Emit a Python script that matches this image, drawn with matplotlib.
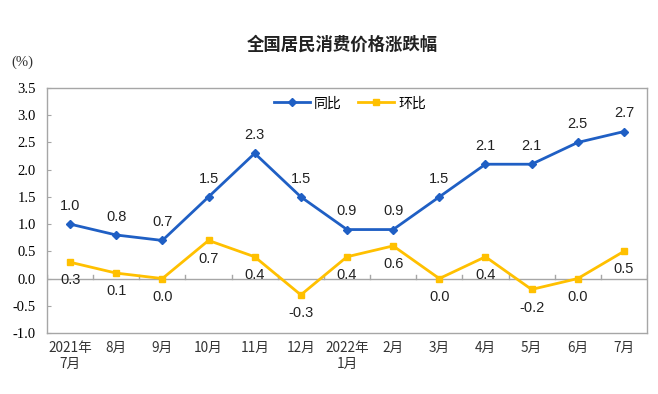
import matplotlib
matplotlib.use("Agg")
import matplotlib.pyplot as plt

plt.rcParams['font.family'] = ['Liberation Sans', 'Noto Sans CJK SC', 'DejaVu Sans']

categories = ["2021年\n7月", "8月", "9月", "10月", "11月", "12月", "2022年\n1月",
              "2月", "3月", "4月", "5月", "6月", "7月"]
yoy = [1.0, 0.8, 0.7, 1.5, 2.3, 1.5, 0.9, 0.9, 1.5, 2.1, 2.1, 2.5, 2.7]
mom = [0.3, 0.1, 0.0, 0.7, 0.4, -0.3, 0.4, 0.6, 0.0, 0.4, -0.2, 0.0, 0.5]
yticks = [-1.0, -0.5, 0.0, 0.5, 1.0, 1.5, 2.0, 2.5, 3.0, 3.5]

blue = "#1F5FC4"
yellow = "#FFC000"
gray = "#A6A6A6"

fig = plt.figure(figsize=(6.58, 3.94), dpi=100)
ax = fig.add_axes([47/658, 1-333/394, 600/658, 245/394])

x = list(range(len(categories)))
ax.plot(x, yoy, color=blue, lw=2.0, marker="D", ms=4.5, label="同比", zorder=3)
ax.plot(x, mom, color=yellow, lw=2.0, marker="s", ms=4.5, label="环比", zorder=3)

for xi, v in zip(x, yoy):
    ax.annotate(f"{v:.1f}", (xi, v), xytext=(0, 8), textcoords="offset points",
                ha="center", va="bottom", fontsize=10.5, color="#222222")
for xi, v in zip(x, mom):
    ax.annotate(f"{v:.1f}", (xi, v), xytext=(0, -8), textcoords="offset points",
                ha="center", va="top", fontsize=10.5, color="#222222")

ax.set_xlim(-0.5, len(categories) - 0.5)
ax.set_ylim(-1.0, 3.5)
ax.set_yticks(yticks)
ax.set_yticklabels([f"{t:.1f}" for t in yticks], fontfamily="Liberation Serif", fontsize=10.5)
ax.tick_params(axis="y", direction="in", length=3, color=gray, pad=8)

# category axis on zero line
ax.axhline(0, color=gray, lw=1.0, zorder=1)
for b in range(len(categories) + 1):
    ax.plot([b - 0.5, b - 0.5], [0, 0.07], color=gray, lw=1.0, zorder=1)
ax.set_xticks(x)
ax.set_xticklabels(categories, fontfamily=["Noto Sans CJK SC"], fontsize=9.8, color="#333333",
                   linespacing=1.15)
ax.tick_params(axis="x", length=0, pad=6)

for s in ax.spines.values():
    s.set_color(gray)
    s.set_linewidth(1.0)

leg = ax.legend(loc="upper center", bbox_to_anchor=(0.505, 1.0), ncol=2, frameon=False,
                prop={"family": "Noto Sans CJK SC", "size": 10}, handlelength=2.6,
                columnspacing=1.2, handletextpad=0.3, borderaxespad=0.2)

fig.text(0.52, 1-45/394, "全国居民消费价格涨跌幅", ha="center", va="center",
         fontsize=12.5, fontfamily="Noto Sans CJK SC", fontweight="bold", color="#222222")
fig.text(11/658, 1-62/394, "(%)", ha="left", va="center", fontsize=10.5,
         fontfamily="Liberation Serif", color="#333333")

fig.savefig("out.png", dpi=100)
